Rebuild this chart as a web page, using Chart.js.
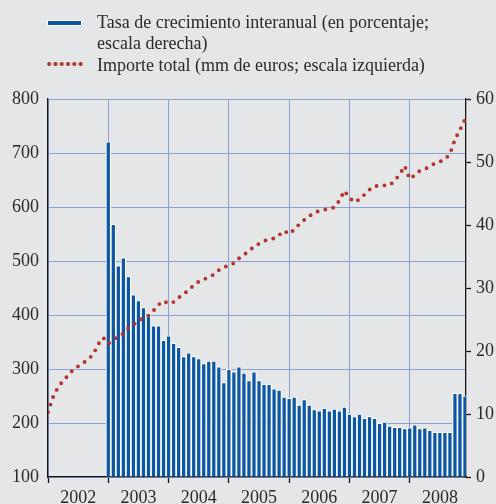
<!DOCTYPE html>
<html lang="es">
<head>
<meta charset="utf-8">
<title>Tasa de crecimiento interanual e importe total</title>
<script src="https://cdn.jsdelivr.net/npm/chart.js@4.4.1/dist/chart.umd.min.js"></script>
<style>
  html, body { margin: 0; padding: 0; background: #e5e6e8; }
  #wrap { position: relative; width: 496px; height: 504px; overflow: hidden; }
  #chart { position: absolute; left: 0; top: 0; }
  .key {
    position: absolute; left: 97px;
    font: 18px "Liberation Serif", "Times New Roman", serif;
    line-height: 18px; color: #2a2a2a; white-space: nowrap;
  }
  .swatch-bar {
    position: absolute; left: 47px; top: 19.5px; width: 33px; height: 4px;
    background: #0c56a3; border: 1px solid #fff;
  }
  .swatch-dots {
    position: absolute; left: 46px; top: 62px; width: 38px; height: 4px;
    background: radial-gradient(circle at center, #b3352d 1.7px, transparent 2.2px) 0 0 / 6.3px 4px repeat-x;
  }
</style>
</head>
<body>
<div id="wrap">
  <canvas id="chart" width="496" height="504"></canvas>
  <div class="swatch-bar"></div>
  <div class="key" style="top:13px">Tasa de crecimiento interanual (en porcentaje;</div>
  <div class="key" style="top:34px">escala derecha)</div>
  <div class="swatch-dots"></div>
  <div class="key" style="top:56px">Importe total (mm de euros; escala izquierda)</div>
</div>
<script>
  // months are indexed from Jan 2002 (0) to Dec 2008 (83)
  const years = ["2002", "2003", "2004", "2005", "2006", "2007", "2008"];

  // importe total, mm de euros (left scale), Jan 2002 - Dec 2008
  const importe = [
    220, 248, 266, 278, 288, 299, 305, 311, 318, 327, 346, 358,
    347, 354, 360, 366, 376, 382, 389, 395, 399, 408, 419, 426,
    421, 424, 432, 439, 446, 455, 462, 466, 470, 475, 483, 489,
    491, 496, 505, 512, 518, 527, 532, 537, 540, 542, 548, 556,
    550, 558, 568, 576, 583, 589, 593, 595, 597, 599, 612, 630,
    617, 609, 614, 623, 632, 639, 639, 640, 640, 649, 660, 676,
    652, 659, 667, 670, 675, 681, 684, 688, 698, 725, 743, 762
  ];

  // tasa de crecimiento interanual, % (right scale), Jan 2003 - Dec 2008
  const tasaStart = 12;
  const tasa = [
    53.2, 40.1, 33.5, 34.8, 31.8, 28.9, 28.0, 26.9, 25.6, 24.0, 24.0, 21.7,
    22.4, 21.2, 20.6, 19.1, 19.7, 19.1, 18.8, 18.0, 18.4, 18.4, 17.5, 15.0,
    17.1, 16.7, 17.5, 16.5, 15.3, 16.7, 15.3, 14.7, 14.7, 14.0, 13.8, 12.7,
    12.5, 12.7, 11.4, 12.3, 11.4, 10.7, 10.5, 10.9, 10.5, 10.8, 10.5, 11.1,
    10.0, 9.6, 10.0, 9.3, 9.6, 9.3, 8.5, 8.7, 8.1, 7.9, 7.9, 7.7,
    7.8, 8.3, 7.7, 7.8, 7.4, 7.1, 7.1, 7.1, 7.1, 13.3, 13.3, 12.9
  ];

  const leftTicks = [100, 800, 100];  // min, max, step
  const rightTicks = [0, 60, 10];

  const X_MAX = 83.2;
  const GRID = "#8da0d9";
  const INK = "#2a2a2a";
  const AXIS = "#151515";
  const FONT = { family: "'Liberation Serif', 'Times New Roman', serif", size: 18 };

  const yearStarts = years.map((_, k) => k * 12);
  const yearMids = years.map((_, k) => k * 12 + 6);

  new Chart(document.getElementById("chart"), {
    type: "bar",
    data: {
      datasets: [
        {
          type: "line",
          label: "Importe total (mm de euros; escala izquierda)",
          data: importe.map((v, i) => ({ x: i, y: v })),
          xAxisID: "x",
          yAxisID: "yL",
          borderColor: "#b3352d",
          borderWidth: 3.9,
          borderDash: [0, 8],
          borderCapStyle: "round",
          pointRadius: 0,
          tension: 0,
          fill: false,
          order: 1,
        },
        {
          type: "bar",
          label: "Tasa de crecimiento interanual (en porcentaje; escala derecha)",
          data: tasa.map((v, k) => ({ x: tasaStart + k, y: v })),
          xAxisID: "x",
          yAxisID: "yR",
          backgroundColor: "#0c56a3",
          borderColor: "#ffffff",
          borderWidth: 1,
          barThickness: 4.6,
          clip: 0,
          order: 2,
        },
      ],
    },
    options: {
      responsive: false,
      animation: false,
      events: [],
      layout: { padding: { top: 99, left: 0, right: 0, bottom: 0 } },
      plugins: { legend: { display: false }, tooltip: { enabled: false } },
      scales: {
        x: {
          type: "linear",
          position: "bottom",
          min: 0,
          max: X_MAX,
          offset: false,
          weight: 0,
          afterBuildTicks: (s) => { s.ticks = yearStarts.map((v) => ({ value: v })); },
          afterFit: (s) => { s.height = 6; },
          ticks: { display: false },
          grid: { offset: false, color: GRID, lineWidth: 1, drawTicks: true, tickLength: 6, tickColor: AXIS, tickWidth: 1.3 },
          border: { color: AXIS, width: 1.3 },
        },
        xl: {
          type: "linear",
          position: "bottom",
          min: 0,
          max: X_MAX,
          offset: false,
          weight: 1,
          afterBuildTicks: (s) => { s.ticks = yearMids.map((v) => ({ value: v })); },
          afterFit: (s) => { s.height = 21; },
          ticks: {
            autoSkip: false,
            maxRotation: 0,
            padding: -4,
            color: INK,
            font: FONT,
            callback: (v, i) => years[i],
          },
          grid: { display: false, offset: false },
          border: { display: false },
        },
        yL: {
          type: "linear",
          position: "left",
          min: leftTicks[0],
          max: leftTicks[1],
          afterFit: (s) => { s.width = 48; },
          ticks: { stepSize: leftTicks[2], padding: 9, color: INK, font: FONT },
          grid: { color: GRID, lineWidth: 1, drawTicks: false },
          border: { color: AXIS, width: 1.3 },
        },
        yR: {
          type: "linear",
          position: "right",
          min: rightTicks[0],
          max: rightTicks[1],
          afterFit: (s) => { s.width = 30; },
          ticks: { stepSize: rightTicks[2], padding: 5, color: INK, font: FONT },
          grid: { drawOnChartArea: false, drawTicks: true, tickLength: 5, tickColor: AXIS, tickWidth: 1.3 },
          border: { color: AXIS, width: 1.3 },
        },
      },
    },
  });
</script>
</body>
</html>
